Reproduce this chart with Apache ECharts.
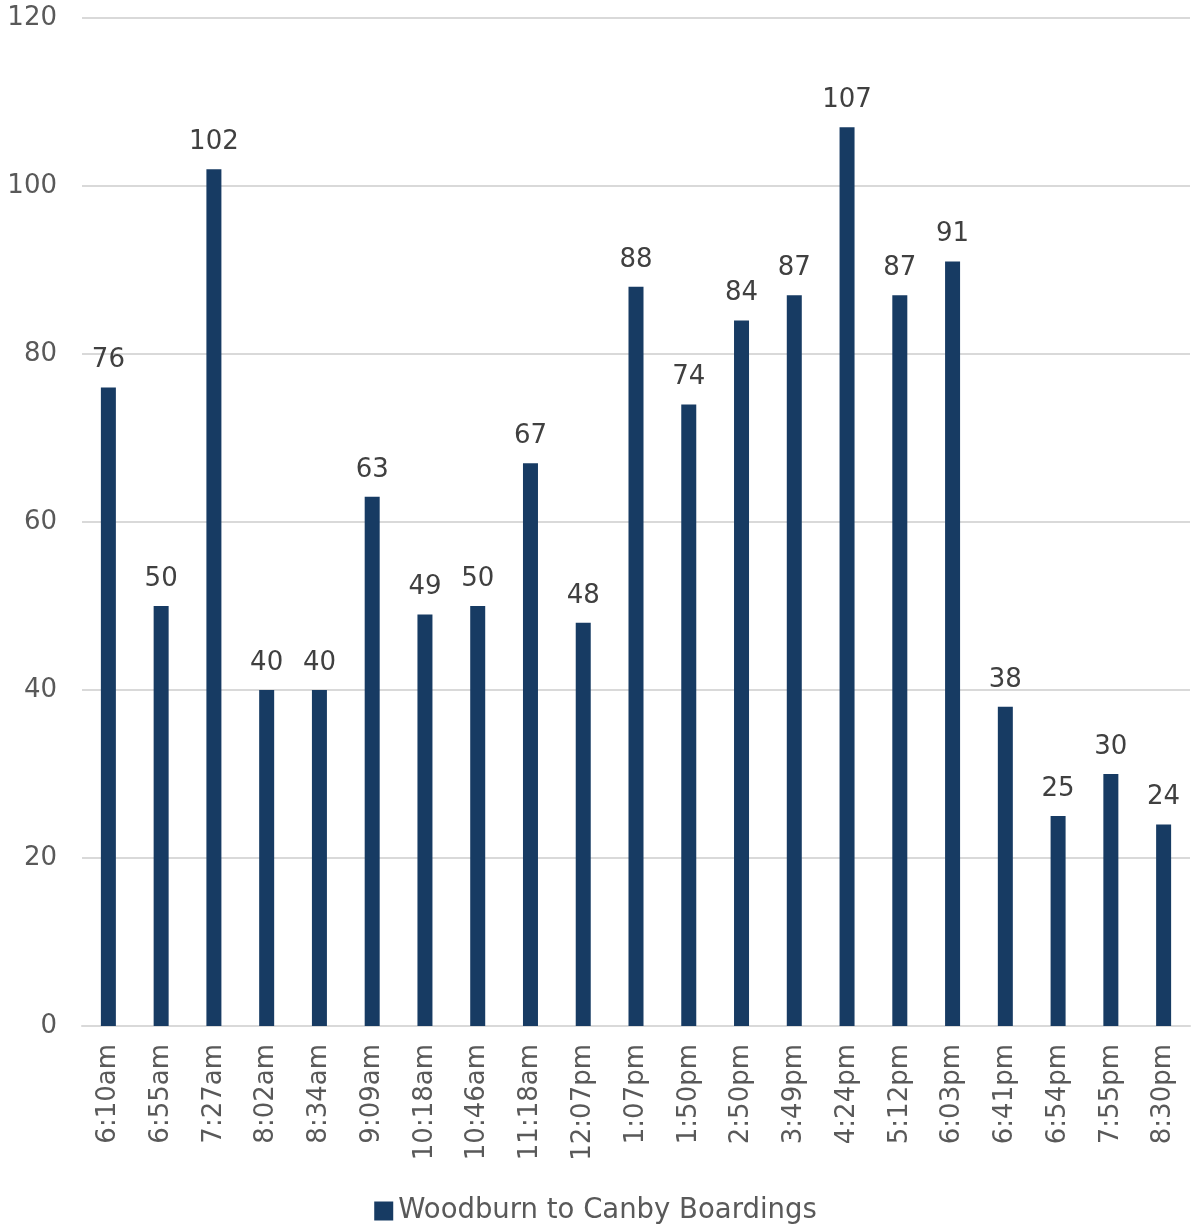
<!DOCTYPE html>
<html>
<head>
<meta charset="utf-8">
<script src="https://cdn.jsdelivr.net/npm/echarts@6/dist/echarts.min.js"></script>
<style>
html,body{margin:0;padding:0;background:#ffffff;}
#chart{width:1191px;height:1228px;}
</style>
</head>
<body>
<div id="chart"></div>
<script>
const categories = ['6:10am','6:55am','7:27am','8:02am','8:34am','9:09am','10:18am','10:46am','11:18am','12:07pm','1:07pm','1:50pm','2:50pm','3:49pm','4:24pm','5:12pm','6:03pm','6:41pm','6:54pm','7:55pm','8:30pm'];
const boardings = [76,50,102,40,40,63,49,50,67,48,88,74,84,87,107,87,91,38,25,30,24];
const seriesName = 'Woodburn to Canby Boardings';
const yMin = 0, yMax = 120, yInterval = 20;

const chart = echarts.init(document.getElementById('chart'), null, {renderer:'canvas'});
const font = '"DejaVu Sans", sans-serif';
chart.setOption({
  backgroundColor:'#ffffff',
  animation:false,
  textStyle:{fontFamily:font},
  legend:{
    data:[seriesName], bottom:-2, left:'center',
    itemWidth:19, itemHeight:19, itemGap:7,
    icon:'rect',
    textStyle:{fontSize:27.5, color:'#595959', fontFamily:font}
  },
  grid:{left:82, right:1, top:18, bottom:202, containLabel:false},
  xAxis:{
    type:'category', data:categories,
    axisLine:{lineStyle:{color:'#d9d9d9', width:2}},
    axisTick:{show:false},
    axisLabel:{rotate:90, fontSize:26, color:'#595959', margin:18, fontFamily:font}
  },
  yAxis:{
    type:'value', min:yMin, max:yMax, interval:yInterval,
    axisLine:{show:false}, axisTick:{show:false},
    axisLabel:{fontSize:26, color:'#595959', margin:25, fontFamily:font},
    splitLine:{lineStyle:{color:'#d9d9d9', width:2}}
  },
  series:[{
    name:seriesName, type:'bar', data:boardings,
    barWidth:15,
    itemStyle:{color:'#173b63'},
    label:{show:true, position:'top', distance:14, fontSize:26, color:'#404040', fontFamily:font}
  }]
});
</script>
</body>
</html>
